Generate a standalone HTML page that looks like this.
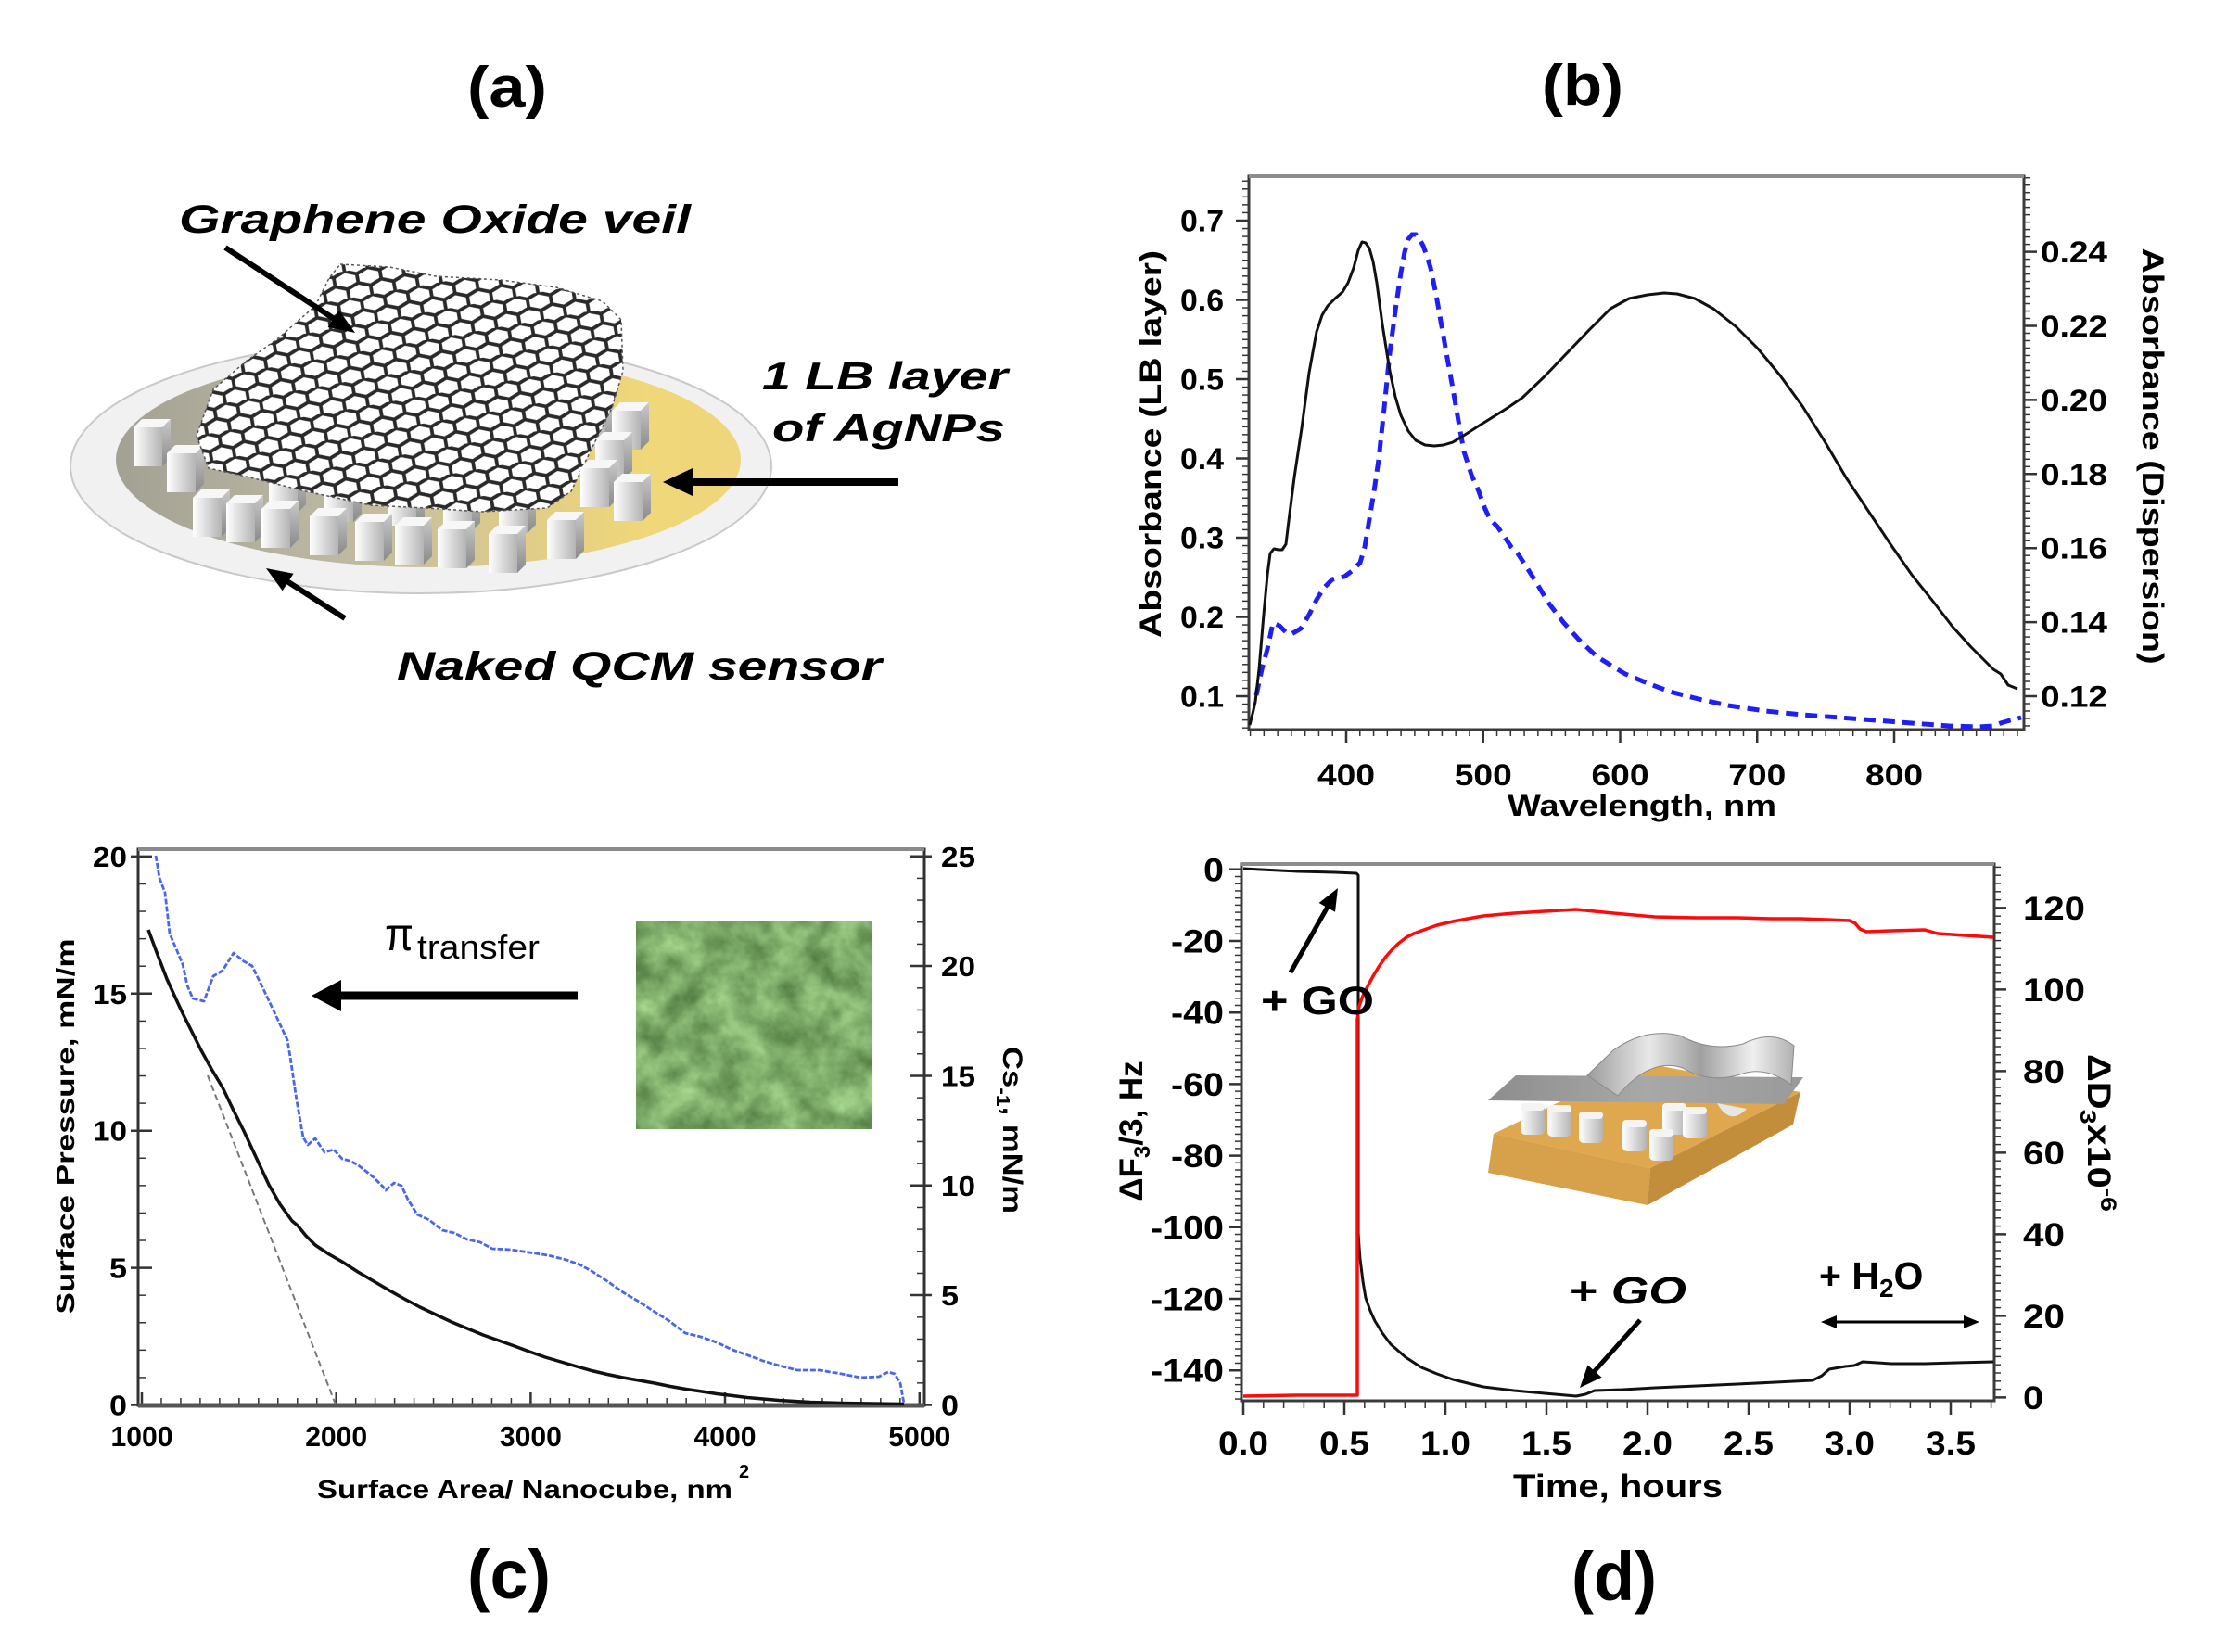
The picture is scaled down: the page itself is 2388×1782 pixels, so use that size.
<!DOCTYPE html>
<html><head><meta charset="utf-8"><style>html,body{margin:0;padding:0;background:#fff}svg{display:block}</style></head>
<body>
<svg xmlns="http://www.w3.org/2000/svg" width="2388" height="1782" viewBox="0 0 2388 1782" font-family="'Liberation Sans', Arial, sans-serif">
<defs>
  <pattern id="tbL" patternUnits="userSpaceOnUse" x="1340" y="750.25" width="7" height="8.55"><rect width="7" height="1.5" fill="#333"/></pattern>
  <pattern id="tbR" patternUnits="userSpaceOnUse" x="2183" y="750.25" width="7" height="7.99"><rect width="7" height="1.5" fill="#333"/></pattern>
  <pattern id="tbB" patternUnits="userSpaceOnUse" x="1451.25" y="787" width="14.775" height="7"><rect width="1.5" height="7" fill="#333"/></pattern>
  <pattern id="tdL" patternUnits="userSpaceOnUse" x="1332" y="937.05" width="7" height="7.72"><rect width="7" height="1.5" fill="#333"/></pattern>
  <pattern id="tdR" patternUnits="userSpaceOnUse" x="2151" y="1506.65" width="7" height="8.8"><rect width="7" height="1.5" fill="#333"/></pattern>
  <pattern id="tdB" patternUnits="userSpaceOnUse" x="1340.25" y="1511" width="21.8" height="8"><rect width="1.5" height="8" fill="#333"/></pattern>
  <pattern id="tcL" patternUnits="userSpaceOnUse" x="149" y="1514.75" width="8" height="29.58"><rect width="8" height="1.5" fill="#333"/></pattern>
  <pattern id="tcR" patternUnits="userSpaceOnUse" x="989" y="1514.75" width="8" height="23.67"><rect width="8" height="1.5" fill="#333"/></pattern>
  <pattern id="tcB" patternUnits="userSpaceOnUse" x="152.25" y="1508" width="20.97" height="8"><rect width="1.5" height="8" fill="#333"/></pattern>

  <pattern id="hex" patternUnits="userSpaceOnUse" width="18" height="21" patternTransform="rotate(-10) scale(1.4)">
    <rect width="18" height="21" fill="#fff"/>
    <path d="M0 3.5 L9 0 L18 3.5 M0 3.5 V10.5 M18 3.5 V10.5 M0 10.5 L9 14 L18 10.5 M9 14 V21" stroke="#2a2a2a" stroke-width="2.7" fill="none"/>
  </pattern>

  <linearGradient id="inner" x1="0" y1="0" x2="1" y2="0">
    <stop offset="0" stop-color="#a3a194"/>
    <stop offset="0.35" stop-color="#bcb8a2"/>
    <stop offset="0.62" stop-color="#dccb8c"/>
    <stop offset="0.85" stop-color="#f0d779"/>
    <stop offset="1" stop-color="#efd67c"/>
  </linearGradient>
  <linearGradient id="cf" x1="0" y1="0" x2="1" y2="0">
    <stop offset="0" stop-color="#ffffff"/>
    <stop offset="1" stop-color="#b4b4b4"/>
  </linearGradient>
  <linearGradient id="cs" x1="0" y1="0" x2="0" y2="1">
    <stop offset="0" stop-color="#c9c9c9"/>
    <stop offset="1" stop-color="#8a8a8a"/>
  </linearGradient>
  <g id="cube">
    <polygon points="0,9 9,0 40,0 31,9" fill="#f7f7f7"/>
    <rect x="0" y="9" width="31" height="42" fill="url(#cf)"/>
    <polygon points="31,9 40,0 40,42 31,51" fill="url(#cs)"/>
  </g>
  <g id="cube2">
    <rect x="0" y="0" width="26" height="34" rx="5" fill="url(#cf)"/>
    <rect x="0" y="0" width="26" height="8" rx="4" fill="#f4f4f4"/>
  </g>
  <linearGradient id="sheet" x1="0" y1="0" x2="1" y2="0">
    <stop offset="0" stop-color="#8d8d8d"/>
    <stop offset="0.5" stop-color="#a8a8a8"/>
    <stop offset="1" stop-color="#9a9a9a"/>
  </linearGradient>
  <linearGradient id="ribbon" x1="0" y1="0" x2="1" y2="0">
    <stop offset="0" stop-color="#9c9c9c"/>
    <stop offset="0.3" stop-color="#e8e8e8"/>
    <stop offset="0.55" stop-color="#a0a0a0"/>
    <stop offset="0.8" stop-color="#f0f0f0"/>
    <stop offset="1" stop-color="#b0b0b0"/>
  </linearGradient>
  <filter id="gn" x="0" y="0" width="100%" height="100%" color-interpolation-filters="sRGB">
    <feTurbulence type="fractalNoise" baseFrequency="0.03" numOctaves="4" seed="7"/>
    <feColorMatrix type="matrix" values="0.5 0 0 0 0.24  0.55 0 0 0 0.395  0.45 0 0 0 0.185  0 0 0 0 1"/>
  </filter>
</defs>

<rect width="2388" height="1782" fill="#fff"/>

<!-- ================= Panel (a) ================= -->
<text x="547" y="115" font-size="62" font-weight="bold" text-anchor="middle" textLength="86" lengthAdjust="spacingAndGlyphs">(a)</text>

<ellipse cx="454" cy="503" rx="378" ry="137" fill="#f1f1f1" stroke="#c9c9c9" stroke-width="2"/>
<ellipse cx="462" cy="496" rx="337" ry="116" fill="url(#inner)"/>

<use href="#cube" x="144" y="452"/>
<use href="#cube" x="180" y="480"/>
<use href="#cube" x="290" y="502"/>
<use href="#cube" x="350" y="512"/>
<use href="#cube" x="418" y="516"/>
<use href="#cube" x="478" y="522"/>
<use href="#cube" x="538" y="524"/>
<use href="#cube" x="622" y="434"/>
<use href="#cube" x="660" y="434"/>
<use href="#cube" x="642" y="466"/>

<polygon points="367,285 420,288 470,298 540,302 600,310 650,325 670,345 672,400 660,440 640,480 616,530 590,548 520,552 460,548 400,545 330,530 270,515 225,505 212,470 230,420 265,390 300,365 340,330 355,300" fill="url(#hex)" stroke="#555" stroke-width="1.5" stroke-dasharray="3 3"/>

<use href="#cube" x="208" y="528"/>
<use href="#cube" x="244" y="534"/>
<use href="#cube" x="282" y="540"/>
<use href="#cube" x="334" y="548"/>
<use href="#cube" x="383" y="554"/>
<use href="#cube" x="426" y="558"/>
<use href="#cube" x="472" y="562"/>
<use href="#cube" x="527" y="567"/>
<use href="#cube" x="590" y="552"/>
<use href="#cube" x="626" y="496"/>
<use href="#cube" x="662" y="511"/>

<text x="193" y="251" font-size="43" font-weight="bold" font-style="italic" textLength="552" lengthAdjust="spacingAndGlyphs">Graphene Oxide veil</text>
<text x="822" y="420" font-size="42" font-weight="bold" font-style="italic" textLength="265" lengthAdjust="spacingAndGlyphs">1 LB layer</text>
<text x="833" y="476" font-size="42" font-weight="bold" font-style="italic" textLength="251" lengthAdjust="spacingAndGlyphs">of AgNPs</text>
<text x="428" y="733" font-size="43" font-weight="bold" font-style="italic" textLength="523" lengthAdjust="spacingAndGlyphs">Naked QCM sensor</text>

<line x1="243" y1="267" x2="362" y2="345" stroke="#000" stroke-width="6"/>
<polygon points="383,359 353.6,352.8 365.6,334.4" fill="#000"/>
<line x1="745" y1="520" x2="969" y2="520" stroke="#000" stroke-width="8"/>
<polygon points="715,520 747,505 747,535" fill="#000"/>
<line x1="372" y1="667" x2="308" y2="626" stroke="#000" stroke-width="6"/>
<polygon points="287,613 316.5,618.7 304.7,637.3" fill="#000"/>

<!-- ================= Panel (b) ================= -->
<text x="1707" y="113" font-size="62" font-weight="bold" text-anchor="middle" textLength="88" lengthAdjust="spacingAndGlyphs">(b)</text>

<rect x="1340" y="190" width="7" height="597" fill="url(#tbL)"/>
<rect x="2183" y="190" width="7" height="597" fill="url(#tbR)"/>
<rect x="1347" y="787" width="836" height="7" fill="url(#tbB)"/>
<path d="M1333 751H1347M1333 665.5H1347M1333 580H1347M1333 494.5H1347M1333 409H1347M1333 323.5H1347M1333 238H1347
M2183 751H2197M2183 671.1H2197M2183 591.2H2197M2183 511.3H2197M2183 431.4H2197M2183 351.5H2197M2183 271.6H2197
M1452 787V801M1599.75 787V801M1747.5 787V801M1895.25 787V801M2043 787V801" stroke="#333" stroke-width="2.5"/>
<rect x="1347" y="190" width="836" height="597" fill="none" stroke="#3a3a3a" stroke-width="3"/>
<line x1="1347" y1="190" x2="2183" y2="190" stroke="#8c8c8c" stroke-width="4"/>

<polyline fill="none" stroke="#1f1ff5" stroke-width="5" stroke-dasharray="13 8" points="1355,750 1361,722 1367,700 1373,672 1380,675 1387,682 1393,684 1403,678 1412,663 1420,647 1428,634 1437,625 1444,623 1450,622 1458,616 1467,607 1472,590 1477,560 1482,530 1487,496 1493,440 1499,381 1505,335 1511,294 1515,272 1519,258 1523,253 1527,253 1531,258 1535,265 1539,276 1543,289 1549,318 1555,352 1561,386 1567,419 1573,454 1579,487 1587,512 1595,530 1601,547 1607,560 1615,568 1622,578 1630,590 1637,597 1646,611 1655,625 1670,650 1686,671 1703,690 1722,708 1738,718 1753,727 1777,737 1801,746 1832,754 1864,761 1904,767 1944,771 1984,774 2023,777 2062,780 2102,783 2134,784 2150,783 2158,780 2168,777 2180,774"/>
<polyline fill="none" stroke="#111" stroke-width="3" stroke-linejoin="round" points="1348,782 1351,770 1354,757 1358,722 1363,663 1367,620 1370,597 1374,592 1379,593 1383,593 1387,587 1390,562 1396,515 1404,462 1412,402 1420,358 1426,340 1432,330 1440,322 1448,315 1454,305 1460,289 1465,270 1469,261 1473,262 1477,268 1481,282 1485,305 1491,350 1499,400 1505,428 1511,448 1519,465 1527,475 1537,480 1547,481 1557,480 1567,477 1580,469 1594,460 1610,450 1626,440 1642,429 1666,406 1690,381 1714,356 1737,333 1757,322 1777,318 1795,316 1809,317 1828,322 1848,333 1872,352 1896,376 1920,405 1944,438 1968,476 1991,515 2015,551 2039,587 2062,620 2086,650 2106,676 2126,698 2140,712 2150,722 2158,727 2162,733 2166,739 2171,741 2176,743"/>

<g font-size="32" font-weight="bold" text-anchor="end">
<text x="1320" y="762.5" textLength="47" lengthAdjust="spacingAndGlyphs">0.1</text>
<text x="1320" y="677" textLength="47" lengthAdjust="spacingAndGlyphs">0.2</text>
<text x="1320" y="591.5" textLength="47" lengthAdjust="spacingAndGlyphs">0.3</text>
<text x="1320" y="506" textLength="47" lengthAdjust="spacingAndGlyphs">0.4</text>
<text x="1320" y="420.5" textLength="47" lengthAdjust="spacingAndGlyphs">0.5</text>
<text x="1320" y="335" textLength="47" lengthAdjust="spacingAndGlyphs">0.6</text>
<text x="1320" y="249.5" textLength="47" lengthAdjust="spacingAndGlyphs">0.7</text>
</g>
<g font-size="32" font-weight="bold">
<text x="2201" y="762.5" textLength="72" lengthAdjust="spacingAndGlyphs">0.12</text>
<text x="2201" y="682.6" textLength="72" lengthAdjust="spacingAndGlyphs">0.14</text>
<text x="2201" y="602.7" textLength="72" lengthAdjust="spacingAndGlyphs">0.16</text>
<text x="2201" y="522.8" textLength="72" lengthAdjust="spacingAndGlyphs">0.18</text>
<text x="2201" y="442.9" textLength="72" lengthAdjust="spacingAndGlyphs">0.20</text>
<text x="2201" y="363" textLength="72" lengthAdjust="spacingAndGlyphs">0.22</text>
<text x="2201" y="283.1" textLength="72" lengthAdjust="spacingAndGlyphs">0.24</text>
</g>
<g font-size="32" font-weight="bold" text-anchor="middle">
<text x="1452" y="847" textLength="62" lengthAdjust="spacingAndGlyphs">400</text>
<text x="1599.75" y="847" textLength="62" lengthAdjust="spacingAndGlyphs">500</text>
<text x="1747.5" y="847" textLength="62" lengthAdjust="spacingAndGlyphs">600</text>
<text x="1895.25" y="847" textLength="62" lengthAdjust="spacingAndGlyphs">700</text>
<text x="2043" y="847" textLength="62" lengthAdjust="spacingAndGlyphs">800</text>
<text x="1771" y="880" textLength="290" lengthAdjust="spacingAndGlyphs">Wavelength, nm</text>
<text transform="translate(1252,479) rotate(-90)" textLength="418" lengthAdjust="spacingAndGlyphs">Absorbance (LB  layer)</text>
<text transform="translate(2311,492) rotate(90)" textLength="449" lengthAdjust="spacingAndGlyphs">Absorbance (Dispersion)</text>
</g>

<!-- ================= Panel (c) ================= -->
<rect x="149" y="916" width="8" height="600" fill="url(#tcL)"/>
<rect x="989" y="916" width="8" height="600" fill="url(#tcR)"/>
<rect x="149" y="1508" width="848" height="8" fill="url(#tcB)"/>
<path d="M141 1515.5H164M141 1367.6H164M141 1219.7H164M141 1071.8H164M141 923.9H164
M982 1515.5H1005M982 1397H1005M982 1278.8H1005M982 1160.5H1005M982 1042H1005M982 923.8H1005
M153 1502V1516M362.7 1502V1516M572.4 1502V1516M782 1502V1516M991.8 1502V1516" stroke="#333" stroke-width="2.5"/>
<rect x="149" y="916" width="848" height="600" fill="none" stroke="#333" stroke-width="3"/>
<line x1="149" y1="916" x2="997" y2="916" stroke="#8a8a8a" stroke-width="4"/>
<line x1="149" y1="1516" x2="997" y2="1516" stroke="#555" stroke-width="5"/>

<rect x="686" y="993" width="254" height="225" fill="#7fae6c" filter="url(#gn)"/>

<line x1="224" y1="1160" x2="362" y2="1515" stroke="#777" stroke-width="2" stroke-dasharray="7 4"/>
<polyline fill="none" stroke="#111" stroke-width="3.5" stroke-linejoin="round" points="160,1003 170,1030 180,1056 190,1078 197,1093 207,1113 217,1133 228,1153 240,1173 251,1196 263,1220 276,1248 290,1278 302,1299 315,1317 321,1322 330,1333 340,1343 355,1353 369,1361 386,1372 403,1382 420,1392 436,1401 453,1410 470,1418 487,1426 504,1433 521,1440 538,1446 555,1452 571,1458 588,1464 605,1469 622,1474 638,1478.5 655,1482.5 672,1486 689,1489 706,1492 723,1495.5 740,1498.5 757,1501 773,1503.5 790,1505.5 806,1507.5 823,1509 840,1510.5 857,1511.5 874,1512.5 891,1513 908,1513.5 940,1514 975,1514.5"/>
<polyline fill="none" stroke="#4a68e6" stroke-width="2.8" stroke-dasharray="6 2" stroke-linejoin="round" points="168,923 172,947 178,963 183,1007 197,1040 202,1063 208,1077 220,1080 230,1053 240,1047 252,1028 263,1037 272,1042 287,1073 303,1107 310,1122 313,1140 320,1187 327,1227 332,1235 340,1228 350,1243 360,1240 369,1250 377,1252 385,1256 393,1262 403,1270 413,1280 416,1284 425,1276 433,1279 440,1294 450,1310 463,1316 477,1327 490,1330 504,1337 518,1340 531,1347 551,1348 571,1351 591,1354 611,1359 625,1364 638,1371 655,1382 672,1394 689,1404 706,1415 722,1425 739,1438 756,1442 773,1448 790,1456 807,1462 823,1468 840,1473 860,1478 884,1478 908,1482 928,1486 948,1485 958,1480 965,1482 971,1492 975,1514"/>

<text x="415" y="1025" font-size="50" textLength="31" lengthAdjust="spacingAndGlyphs">π</text>
<text x="450" y="1034" font-size="36" textLength="132" lengthAdjust="spacingAndGlyphs">transfer</text>
<line x1="363" y1="1074" x2="623" y2="1074" stroke="#000" stroke-width="9"/>
<polygon points="336,1074 368,1057 368,1091" fill="#000"/>

<g font-size="31" font-weight="bold" text-anchor="end">
<text x="137" y="1526.5" textLength="19" lengthAdjust="spacingAndGlyphs">0</text>
<text x="137" y="1378.6" textLength="19" lengthAdjust="spacingAndGlyphs">5</text>
<text x="137" y="1230.7" textLength="37" lengthAdjust="spacingAndGlyphs">10</text>
<text x="137" y="1082.8" textLength="37" lengthAdjust="spacingAndGlyphs">15</text>
<text x="137" y="934.9" textLength="37" lengthAdjust="spacingAndGlyphs">20</text>
</g>
<g font-size="31" font-weight="bold">
<text x="1015" y="1526.5" textLength="19" lengthAdjust="spacingAndGlyphs">0</text>
<text x="1015" y="1408" textLength="19" lengthAdjust="spacingAndGlyphs">5</text>
<text x="1015" y="1289.8" textLength="37" lengthAdjust="spacingAndGlyphs">10</text>
<text x="1015" y="1171.5" textLength="37" lengthAdjust="spacingAndGlyphs">15</text>
<text x="1015" y="1053" textLength="37" lengthAdjust="spacingAndGlyphs">20</text>
<text x="1015" y="934.8" textLength="37" lengthAdjust="spacingAndGlyphs">25</text>
</g>
<g font-size="31" font-weight="bold" text-anchor="middle">
<text x="153" y="1560" textLength="67" lengthAdjust="spacingAndGlyphs">1000</text>
<text x="362.7" y="1560" textLength="67" lengthAdjust="spacingAndGlyphs">2000</text>
<text x="572.4" y="1560" textLength="67" lengthAdjust="spacingAndGlyphs">3000</text>
<text x="782" y="1560" textLength="67" lengthAdjust="spacingAndGlyphs">4000</text>
<text x="991.8" y="1560" textLength="67" lengthAdjust="spacingAndGlyphs">5000</text>
</g>
<text x="342" y="1616" font-size="28" font-weight="bold" textLength="448" lengthAdjust="spacingAndGlyphs">Surface Area/ Nanocube, nm</text>
<text x="797" y="1594" font-size="20" font-weight="bold">2</text>
<text transform="translate(80,1215) rotate(-90)" font-size="28" font-weight="bold" text-anchor="middle" textLength="405" lengthAdjust="spacingAndGlyphs">Surface Pressure, mN/m</text>
<text transform="translate(1082,1219) rotate(90)" font-size="30" font-weight="bold" text-anchor="middle" textLength="180" lengthAdjust="spacingAndGlyphs">Cs<tspan dy="7" font-size="20">-1</tspan><tspan dy="-7">, mN/m</tspan></text>

<text x="549" y="1724" font-size="74" font-weight="bold" text-anchor="middle" textLength="90" lengthAdjust="spacingAndGlyphs">(c)</text>

<!-- ================= Panel (d) ================= -->
<rect x="1332" y="932" width="7" height="579" fill="url(#tdL)"/>
<rect x="2151" y="932" width="7" height="579" fill="url(#tdR)"/>
<rect x="1339" y="1511" width="812" height="8" fill="url(#tdB)"/>
<path d="M1326 937.8H1339M1326 1015H1339M1326 1092.2H1339M1326 1169.4H1339M1326 1246.6H1339M1326 1323.8H1339M1326 1401H1339M1326 1478.2H1339
M2151 1507.4H2164M2151 1419.4H2164M2151 1331.4H2164M2151 1243.4H2164M2151 1155.4H2164M2151 1067.4H2164M2151 979.4H2164
M1341 1511V1526M1450 1511V1526M1559 1511V1526M1668 1511V1526M1777 1511V1526M1886 1511V1526M1995 1511V1526M2104 1511V1526" stroke="#333" stroke-width="2.5"/>
<rect x="1339" y="932" width="812" height="579" fill="none" stroke="#3a3a3a" stroke-width="3"/>
<line x1="1339" y1="932" x2="2151" y2="932" stroke="#8c8c8c" stroke-width="4"/>

<polygon points="1611,1223 1780,1260 1942,1178 1770,1146" fill="#dfa84f"/>
<polygon points="1611,1223 1780,1260 1777,1300 1605,1265" fill="#d7a04a"/>
<polygon points="1780,1260 1942,1178 1934,1213 1777,1300" fill="#c38e3b"/>
<use href="#cube2" x="1640" y="1190"/>
<use href="#cube2" x="1669" y="1192"/>
<use href="#cube2" x="1703" y="1199"/>
<use href="#cube2" x="1793" y="1190"/>
<use href="#cube2" x="1815" y="1194"/>
<use href="#cube2" x="1750" y="1208"/>
<use href="#cube2" x="1779" y="1218"/>
<polygon points="1605,1187 1635,1160 1945,1162 1924,1191" fill="url(#sheet)"/>
<path d="M1712,1160 L1740,1133 Q1775,1108 1812,1117 Q1845,1135 1880,1126 Q1912,1110 1935,1128 L1932,1170 Q1905,1150 1880,1158 Q1845,1170 1815,1152 Q1780,1140 1745,1182 Z" fill="url(#ribbon)" stroke="#8a8a8a" stroke-width="1"/>
<path d="M1852,1190 Q1866,1215 1884,1196 Z" fill="#e6e6e6"/>

<polyline fill="none" stroke="#111" stroke-width="3" stroke-linejoin="round" points="1341,937 1360,938 1380,939 1400,940 1420,940.5 1440,941 1463,942 1465,944 1465,1330 1466,1345 1467,1358 1470,1382 1473,1400 1478,1414 1483,1425 1491,1438 1500,1450 1516,1464 1533,1475 1550,1482 1567,1488 1583,1492 1600,1496 1633,1500 1666,1503 1700,1506 1710,1504 1720,1500 1750,1499 1785,1497 1830,1495 1874,1493 1915,1491 1955,1489 1965,1484 1973,1477 1990,1474 2000,1473 2009,1469 2040,1471 2076,1471 2110,1470 2150,1469"/>
<polyline fill="none" stroke="#ff0a0a" stroke-width="3.5" stroke-linejoin="round" points="1341,1506 1400,1505 1463,1505 1464,1505 1464,1100 1466,1085 1470,1074 1475,1064 1481,1053 1487,1043 1494,1033 1500,1026 1508,1018 1517,1011 1525,1007 1533,1004 1550,998 1567,994 1583,991 1600,988 1633,985 1666,983 1700,981 1740,985 1785,989 1830,990 1874,990 1910,991 1942,991 1970,992 1995,993 2001,996 2006,1002 2013,1005 2040,1004 2076,1003 2090,1007 2120,1009 2150,1011"/>

<text x="1360" y="1094" font-size="43" font-weight="bold" textLength="122" lengthAdjust="spacingAndGlyphs">+ GO</text>
<line x1="1392" y1="1049" x2="1432" y2="978" stroke="#000" stroke-width="5"/>
<polygon points="1443,958 1440,983.8 1422.6,974" fill="#000"/>

<text x="1693" y="1406" font-size="41" font-weight="bold" textLength="126" lengthAdjust="spacingAndGlyphs">+ <tspan font-style="italic">GO</tspan></text>
<line x1="1769" y1="1424" x2="1719" y2="1480" stroke="#000" stroke-width="5"/>
<polygon points="1704,1497 1727.5,1485.8 1712.5,1472.5" fill="#000"/>

<text x="1962" y="1390" font-size="41" font-weight="bold">+ H<tspan dy="9" font-size="28">2</tspan><tspan dy="-9">O</tspan></text>
<line x1="1978" y1="1426" x2="2121" y2="1426" stroke="#000" stroke-width="3"/>
<polygon points="1964,1426 1981,1419 1981,1433" fill="#000"/>
<polygon points="2135,1426 2118,1419 2118,1433" fill="#000"/>

<g font-size="35" font-weight="bold" text-anchor="end">
<text x="1320" y="950.3" textLength="22" lengthAdjust="spacingAndGlyphs">0</text>
<text x="1320" y="1027.5" textLength="57" lengthAdjust="spacingAndGlyphs">-20</text>
<text x="1320" y="1104.7" textLength="57" lengthAdjust="spacingAndGlyphs">-40</text>
<text x="1320" y="1181.9" textLength="57" lengthAdjust="spacingAndGlyphs">-60</text>
<text x="1320" y="1259.1" textLength="57" lengthAdjust="spacingAndGlyphs">-80</text>
<text x="1320" y="1336.3" textLength="79" lengthAdjust="spacingAndGlyphs">-100</text>
<text x="1320" y="1413.5" textLength="79" lengthAdjust="spacingAndGlyphs">-120</text>
<text x="1320" y="1490.7" textLength="79" lengthAdjust="spacingAndGlyphs">-140</text>
</g>
<g font-size="35" font-weight="bold">
<text x="2182" y="1520" textLength="22" lengthAdjust="spacingAndGlyphs">0</text>
<text x="2182" y="1432" textLength="45" lengthAdjust="spacingAndGlyphs">20</text>
<text x="2182" y="1344" textLength="45" lengthAdjust="spacingAndGlyphs">40</text>
<text x="2182" y="1256" textLength="45" lengthAdjust="spacingAndGlyphs">60</text>
<text x="2182" y="1168" textLength="45" lengthAdjust="spacingAndGlyphs">80</text>
<text x="2182" y="1080" textLength="67" lengthAdjust="spacingAndGlyphs">100</text>
<text x="2182" y="992" textLength="67" lengthAdjust="spacingAndGlyphs">120</text>
</g>
<g font-size="35" font-weight="bold" text-anchor="middle">
<text x="1341" y="1569" textLength="54" lengthAdjust="spacingAndGlyphs">0.0</text>
<text x="1450" y="1569" textLength="54" lengthAdjust="spacingAndGlyphs">0.5</text>
<text x="1559" y="1569" textLength="54" lengthAdjust="spacingAndGlyphs">1.0</text>
<text x="1668" y="1569" textLength="54" lengthAdjust="spacingAndGlyphs">1.5</text>
<text x="1777" y="1569" textLength="54" lengthAdjust="spacingAndGlyphs">2.0</text>
<text x="1886" y="1569" textLength="54" lengthAdjust="spacingAndGlyphs">2.5</text>
<text x="1995" y="1569" textLength="54" lengthAdjust="spacingAndGlyphs">3.0</text>
<text x="2104" y="1569" textLength="54" lengthAdjust="spacingAndGlyphs">3.5</text>
<text x="1745" y="1615" textLength="226" lengthAdjust="spacingAndGlyphs">Time, hours</text>
</g>
<text transform="translate(1232,1220) rotate(-90)" font-size="35" font-weight="bold" text-anchor="middle">ΔF<tspan dy="8" font-size="24">3</tspan><tspan dy="-8">/3, Hz</tspan></text>
<text transform="translate(2252,1222) rotate(90)" font-size="35" font-weight="bold" text-anchor="middle" textLength="170" lengthAdjust="spacingAndGlyphs">ΔD<tspan dy="8" font-size="24">3</tspan><tspan dy="-8">x10</tspan><tspan dy="-14" font-size="24">-6</tspan></text>

<text x="1741" y="1726" font-size="74" font-weight="bold" text-anchor="middle" textLength="92" lengthAdjust="spacingAndGlyphs">(d)</text>
</svg>
</body></html>
